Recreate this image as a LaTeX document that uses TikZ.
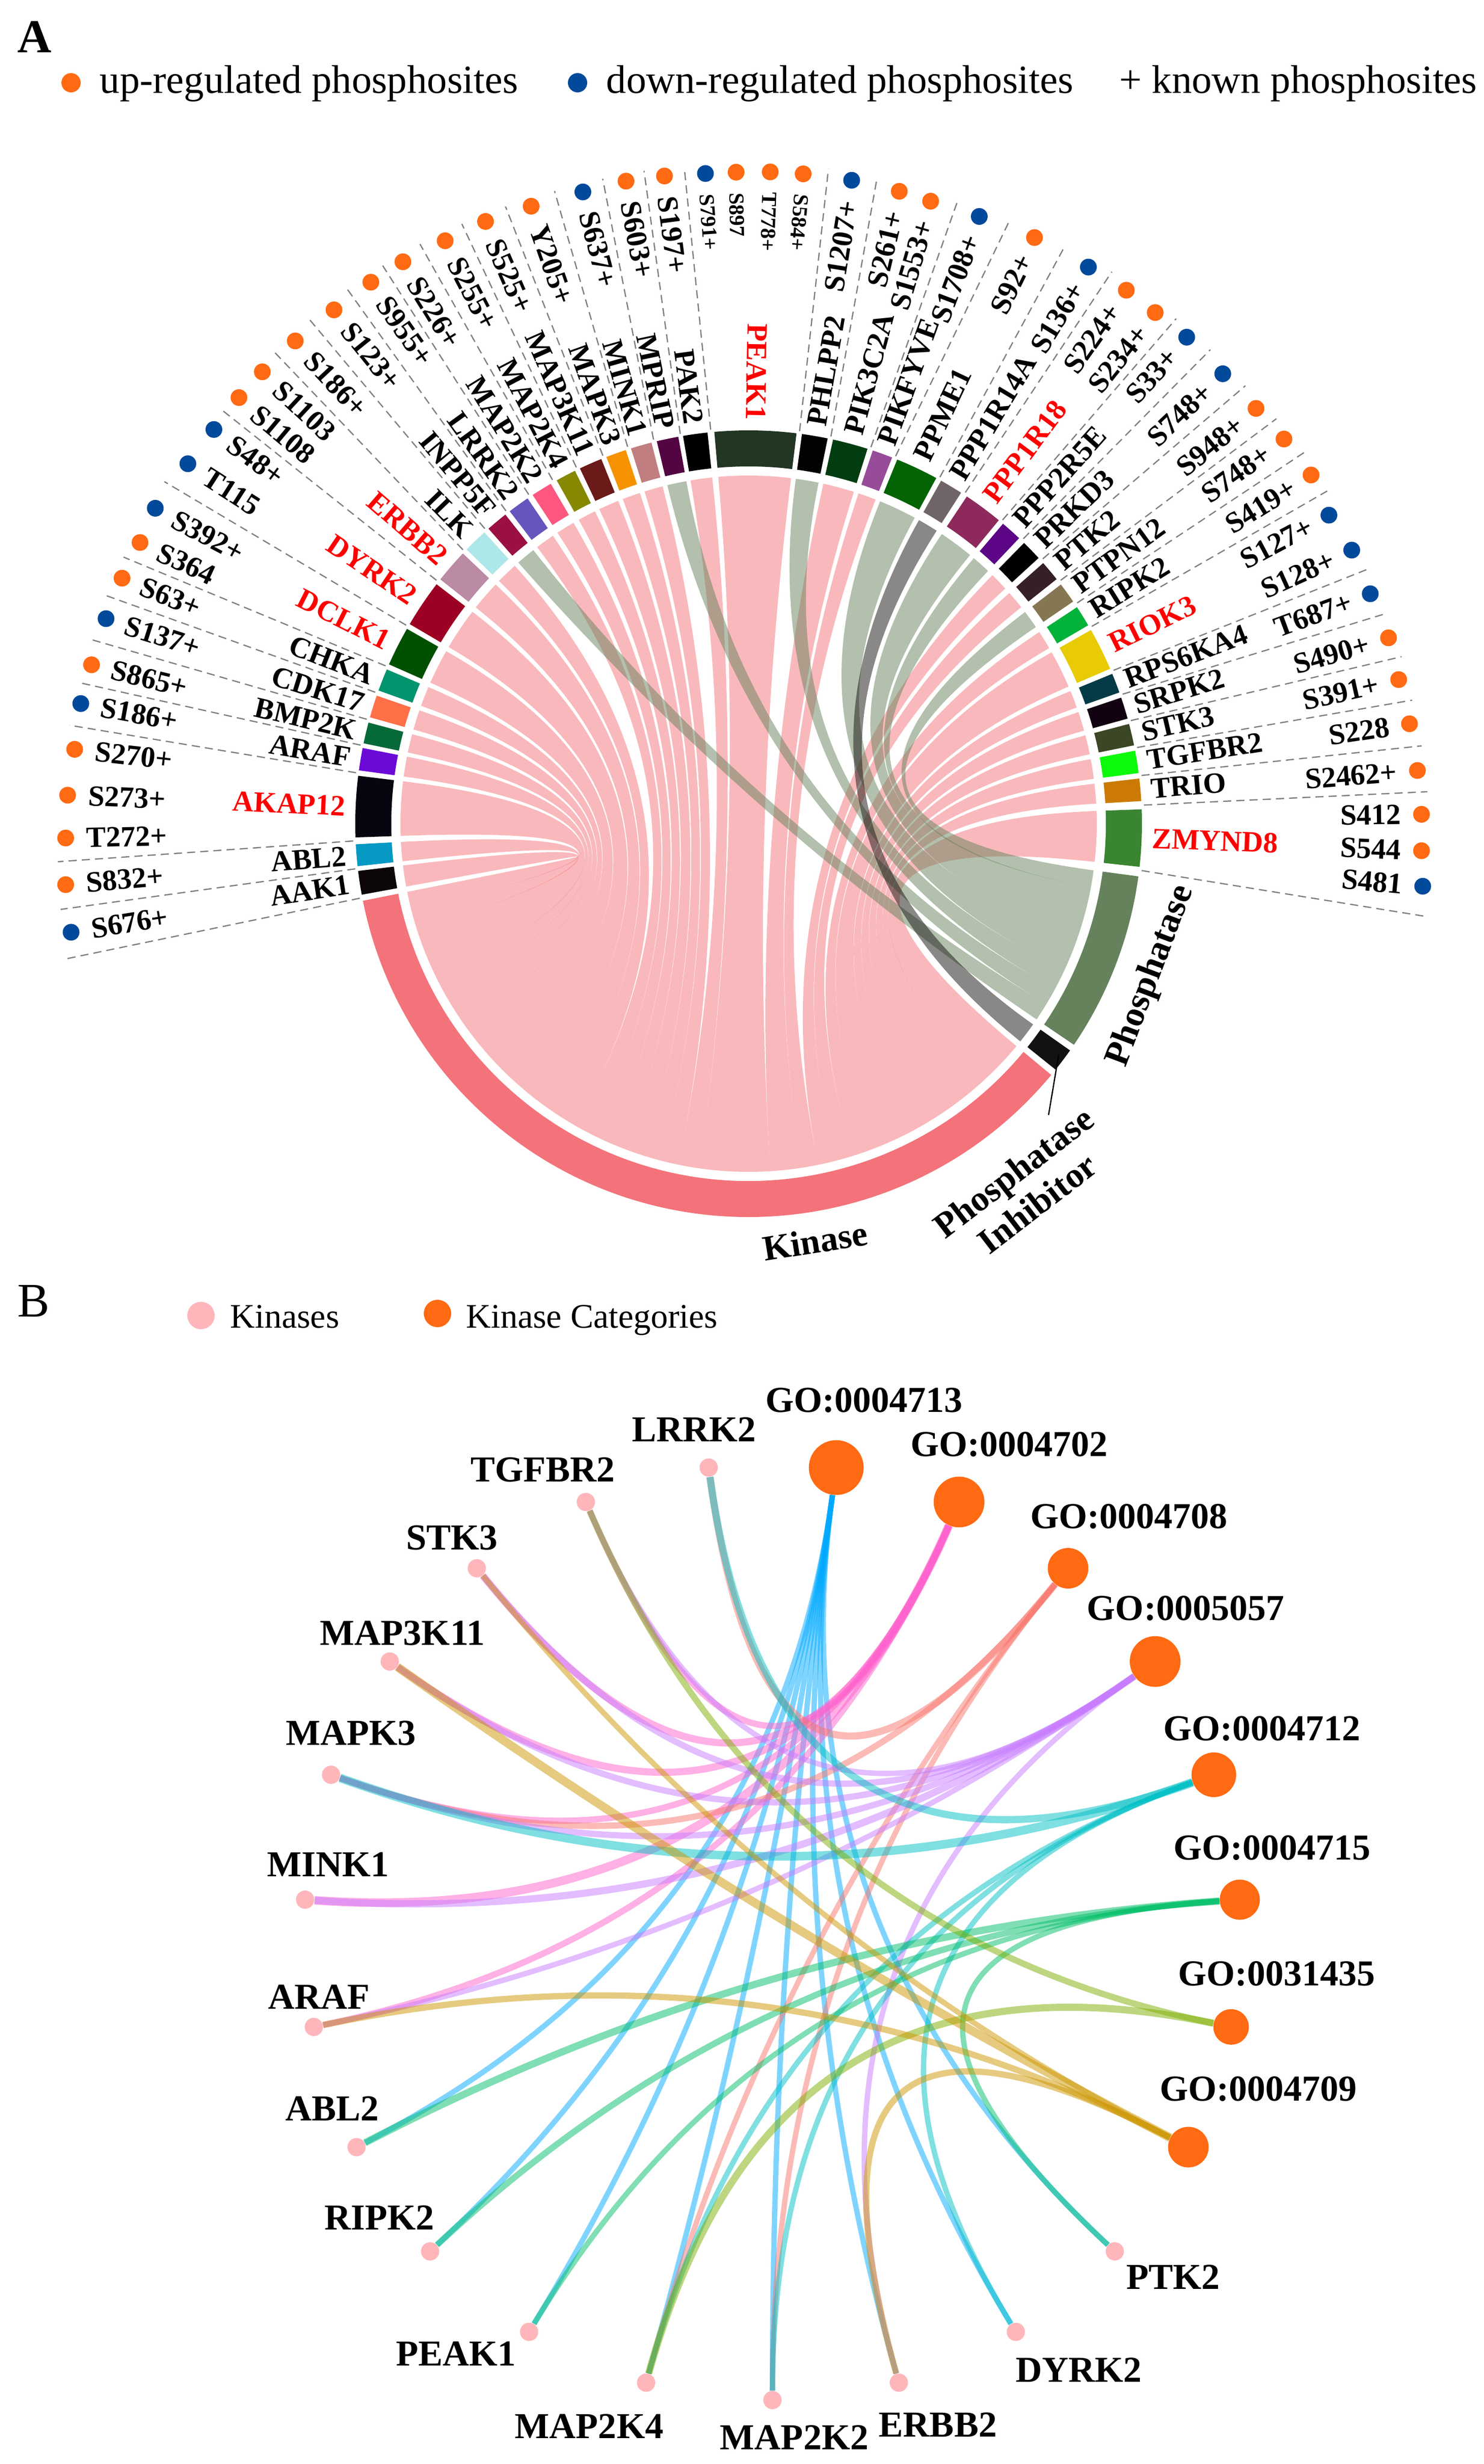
\documentclass[tikz,border=0pt]{standalone}
\usepackage{fontspec}
\setmainfont{Liberation Serif}
\usetikzlibrary{calc,backgrounds}

\definecolor{cUp}{HTML}{FF6A13}
\definecolor{cDown}{HTML}{01499A}
\definecolor{cGuide}{HTML}{7F7F7F}
\definecolor{cKin}{HTML}{F4737A}
\definecolor{cPho}{HTML}{66825C}
\definecolor{cInh}{HTML}{141210}
\definecolor{cKinN}{HTML}{FFB6BA}
% block colours
\definecolor{cAAK1}{HTML}{0D0606}
\definecolor{cABL2}{HTML}{0599C4}
\definecolor{cAKAP12}{HTML}{05060F}
\definecolor{cARAF}{HTML}{6B0AD6}
\definecolor{cBMP2K}{HTML}{066A38}
\definecolor{cCDK17}{HTML}{FF7048}
\definecolor{cCHKA}{HTML}{02946F}
\definecolor{cDCLK1}{HTML}{005000}
\definecolor{cDYRK2}{HTML}{9C0124}
\definecolor{cERBB2}{HTML}{BB8AA4}
\definecolor{cILK}{HTML}{AEE7E9}
\definecolor{cINPP5F}{HTML}{9A1042}
\definecolor{cLRRK2}{HTML}{6556BE}
\definecolor{cMAP2K2}{HTML}{FF5880}
\definecolor{cMAP2K4}{HTML}{858800}
\definecolor{cMAP3K11}{HTML}{6A1A18}
\definecolor{cMAPK3}{HTML}{F69200}
\definecolor{cMINK1}{HTML}{C07E80}
\definecolor{cMPRIP}{HTML}{520542}
\definecolor{cPAK2}{HTML}{000000}
\definecolor{cPEAK1}{HTML}{223623}
\definecolor{cPHLPP2}{HTML}{020202}
\definecolor{cPIK3C2A}{HTML}{023D12}
\definecolor{cPIKFYVE}{HTML}{974C9A}
\definecolor{cPPME1}{HTML}{046304}
\definecolor{cPPP1R14A}{HTML}{706566}
\definecolor{cPPP1R18}{HTML}{8E2A5B}
\definecolor{cPPP2R5E}{HTML}{5C0587}
\definecolor{cPRKD3}{HTML}{000000}
\definecolor{cPTK2}{HTML}{352125}
\definecolor{cPTPN12}{HTML}{857752}
\definecolor{cRIPK2}{HTML}{03B23A}
\definecolor{cRIOK3}{HTML}{E8CB02}
\definecolor{cRPS6KA4}{HTML}{043B47}
\definecolor{cSRPK2}{HTML}{130211}
\definecolor{cSTK3}{HTML}{3B4724}
\definecolor{cTGFBR2}{HTML}{0CF90B}
\definecolor{cTRIO}{HTML}{CB7B05}
\definecolor{cZMYND8}{HTML}{3A8532}
% GO term colours
\definecolor{cgo4713}{HTML}{00A9FF}
\definecolor{cgo4702}{HTML}{FF61CC}
\definecolor{cgo4708}{HTML}{F8766D}
\definecolor{cgo5057}{HTML}{C77CFF}
\definecolor{cgo4712}{HTML}{00BFC4}
\definecolor{cgo4715}{HTML}{00BE67}
\definecolor{cgo31435}{HTML}{7CAE00}
\definecolor{cgo4709}{HTML}{CD9600}

\begin{document}
\begin{tikzpicture}[
    gene/.style={font=\fontsize{16.5}{18}\selectfont\bfseries, inner sep=0pt},
    site/.style={font=\fontsize{16.5}{18}\selectfont\bfseries, inner sep=0pt},
    sitesm/.style={font=\fontsize{12}{14}\selectfont\bfseries, inner sep=0pt},
    cat/.style={font=\fontsize{20}{22}\selectfont\bfseries, inner sep=0pt},
    leg/.style={font=\fontsize{22.4}{26}\selectfont, inner sep=0pt, anchor=base west},
    legb/.style={font=\fontsize{19.3}{22}\selectfont, inner sep=0pt, anchor=base west},
    dot/.style={circle, inner sep=0pt, minimum size=0.38cm},
    guide/.style={draw=cGuide, line width=0.7pt, dash pattern=on 0.16cm off 0.1cm},
    chordK/.style={fill=cKin, fill opacity=0.5},
    chordP/.style={fill=cPho, fill opacity=0.5},
    chordI/.style={fill=cInh, fill opacity=0.5},
    kin/.style={circle, fill=cKinN, inner sep=0pt, minimum size=0.36cm},
    gonode/.style={circle, fill=cUp, inner sep=0pt},
    blab/.style={font=\fontsize{20.5}{24}\selectfont\bfseries, inner sep=0pt},
    edge/.style={draw opacity=0.5}
  ]
  \useasboundingbox (0,0) rectangle (29.24,-48.55);

  % panel A: legend
  \node[font=\fontsize{26.5}{30}\selectfont\bfseries, inner sep=0pt, anchor=base west] (panelA) at (0.34,-1.03) {A};
  \node[dot, fill=cUp] (legUp) at (1.40,-1.63) {};
  \node[leg] (legUpT) at (1.96,-1.83) {up-regulated phosphosites};
  \node[dot, fill=cDown] (legDown) at (11.38,-1.63) {};
  \node[leg] (legDownT) at (11.94,-1.83) {down-regulated phosphosites};
  \node[leg] (legKnownT) at (22.05,-1.83) {+ known phosphosites};

  \begin{scope}[shift={(14.75,-16.23)}]
    \def\Rin{7.04}
    \def\Rout{7.75}
    \def\Rc{6.86}
    \def\Rq{2.287}
    \def\Rlab{7.95}

    % chords
    \foreach \sa/\sb/\ta/\tb/\cc in {
        186.9/190.4/191.3/194.71/chordK, 183.0/186.2/194.71/197.83/chordK,
        173.0/182.0/197.83/206.59/chordK, 168.9/172.2/206.59/209.80/chordK,
        165.1/168.2/209.80/212.82/chordK, 161.0/164.3/212.82/216.03/chordK,
        156.9/160.2/216.03/219.24/chordK, 150.3/156.1/219.24/224.89/chordK,
        142.5/149.5/224.89/231.71/chordK, 136.6/141.6/231.71/236.58/chordK,
        132.2/135.8/236.58/240.08/chordK, 124.2/127.4/240.08/243.20/chordK,
        120.2/123.3/243.20/246.22/chordK, 116.2/119.2/246.22/249.14/chordK,
        112.0/115.4/249.14/252.45/chordK, 108.2/111.2/252.45/255.37/chordK,
        104.3/107.4/255.37/258.39/chordK, 96.0/99.6/258.39/261.89/chordK,
        83.0/95.0/261.89/273.57/chordK, 72.4/77.6/273.57/278.63/chordK,
        68.6/71.6/278.63/281.55/chordK, 42.5/45.55/281.55/284.52/chordK,
        38.45/41.5/284.52/287.49/chordK, 30.3/33.4/287.49/290.51/chordK,
        23.2/29.5/290.51/296.64/chordK, 19.5/22.4/296.64/299.46/chordK,
        15.5/18.7/299.46/302.58/chordK, 11.5/14.7/302.58/305.70/chordK,
        7.4/10.7/305.70/308.91/chordK, 3.3/6.6/308.91/312.12/chordK,
        -6.3/2.1/312.12/320.30/chordK,
        128.2/131.4/325.8/328.78/chordP, 100.3/103.5/328.78/331.76/chordP,
        78.4/82.2/331.76/335.29/chordP, 61.5/67.8/335.29/341.15/chordP,
        50.5/56.3/341.15/346.54/chordP, 46.55/49.7/346.54/349.47/chordP,
        34.4/37.45/349.47/352.30/chordP,
        57.3/60.7/321.3/324.8/chordI}
      \fill[\cc] (\sa:\Rc) arc[start angle=\sa, end angle=\sb, radius=\Rc]
        .. controls (\sb:\Rq) and (\ta:\Rq) .. (\ta:\Rc)
        arc[start angle=\ta, end angle=\tb, radius=\Rc]
        .. controls (\tb:\Rq) and (\sa:\Rq) .. (\sa:\Rc) -- cycle;

    % category track
    \foreach \ga/\gb/\cc in {191.3/320.3/cKin, 321.3/324.8/cInh, 325.8/352.3/cPho}
      \fill[\cc] (\ga:\Rin) arc[start angle=\ga, end angle=\gb, radius=\Rin]
        -- (\gb:\Rout) arc[start angle=\gb, end angle=\ga, radius=\Rout] -- cycle;

    % guide lines
    \foreach \b/\gg/\rr in {190.85/191.2/13.73, 186.55/187.1/13.66, 182.5/183.15/13.63,
        172.6/171.75/13.52, 168.55/168.1/13.50, 164.7/164.35/13.46, 160.6/160.45/13.43,
        156.5/156.9/13.39, 149.9/149.65/13.34, 142.05/141.85/13.24, 136.2/135.15/13.22,
        131.8/131.05/13.18, 127.8/126.9/13.16, 123.75/123.25/13.15, 119.7/119.55/13.13,
        115.8/115.55/13.10, 111.6/111.5/13.07, 107.8/107.05/13.04, 103.9/102.75/13.03,
        99.95/99.1/13.03, 95.5/95.6/13.00, 82.6/83.05/13.00, 78.0/78.75/12.97,
        72.0/71.45/12.94, 68.2/66.6/12.98, 61.1/61.3/13.00, 56.8/56.65/13.02,
        50.1/49.75/13.04, 46.05/45.75/13.04, 42.0/41.4/13.05, 37.95/37.5/13.11,
        33.9/33.75/13.17, 29.9/29.9/13.15, 22.8/22.35/13.21, 19.1/18.25/13.25,
        15.1/14.35/13.28, 11.1/10.55/13.30, 7.0/6.6/13.35, 2.7/2.7/13.39, -6.8/-7.8/13.49}
      \draw[guide] (\b:7.80) -- (\gg:\rr);

    % gene blocks and names
    \foreach \ga/\gb/\gn/\gt in {
        -6.3/2.1/ZMYND8/red, 3.3/6.6/TRIO/black, 7.4/10.7/TGFBR2/black,
        11.5/14.7/STK3/black, 15.5/18.7/SRPK2/black, 19.5/22.4/RPS6KA4/black,
        23.2/29.5/RIOK3/red, 30.3/33.4/RIPK2/black, 34.4/37.45/PTPN12/black,
        38.45/41.5/PTK2/black, 42.5/45.55/PRKD3/black, 46.55/49.7/PPP2R5E/black,
        50.5/56.3/PPP1R18/red, 57.3/60.7/PPP1R14A/black, 61.5/67.8/PPME1/black,
        68.6/71.6/PIKFYVE/black, 72.4/77.6/PIK3C2A/black, 78.4/82.2/PHLPP2/black,
        83.0/95.0/PEAK1/red, 96.0/99.6/PAK2/black, 100.3/103.5/MPRIP/black,
        104.3/107.4/MINK1/black, 108.2/111.2/MAPK3/black, 112.0/115.4/MAP3K11/black,
        116.2/119.2/MAP2K4/black, 120.2/123.3/MAP2K2/black, 124.2/127.4/LRRK2/black,
        128.2/131.4/INPP5F/black, 132.2/135.8/ILK/black, 136.6/141.6/ERBB2/red,
        142.5/149.5/DYRK2/red, 150.3/156.1/DCLK1/red, 156.9/160.2/CHKA/black,
        161.0/164.3/CDK17/black, 165.1/168.2/BMP2K/black, 168.9/172.2/ARAF/black,
        173.0/182.0/AKAP12/red, 183.0/186.2/ABL2/black, 186.9/190.4/AAK1/black}{
      \pgfmathsetmacro\gm{(\ga+\gb)/2}
      \pgfmathsetmacro\gr{\gm+180}
      \fill[c\gn] (\ga:\Rin) arc[start angle=\ga, end angle=\gb, radius=\Rin]
        -- (\gb:\Rout) arc[start angle=\gb, end angle=\ga, radius=\Rout] -- cycle;
      \ifdim\gm pt>81.5pt
        \node[gene, text=\gt, rotate=\gr, anchor=east] (g\gn) at (\gm:\Rlab) {\gn};
      \else
        \node[gene, text=\gt, rotate=\gm, anchor=west] (g\gn) at (\gm:\Rlab) {\gn};
      \fi
    }

    % phosphosites
    \foreach \sa/\sr/\st/\sc/\ss [count=\i] in {
        189.1/13.52/S676+/cDown/site, 185.1/13.51/S832+/cUp/site, 181.2/13.46/T272+/cUp/site,
        177.6/13.43/S273+/cUp/site, 173.7/13.36/S270+/cUp/site, 169.8/13.37/S186+/cDown/site,
        166.4/13.32/S865+/cUp/site, 162.3/13.29/S137+/cDown/site, 158.6/13.26/S63+/cUp/site,
        155.2/13.21/S364/cUp/site, 152.0/13.24/S392+/cDown/site, 147.3/13.13/T115/cDown/site,
        143.6/13.09/S48+/cDown/site, 140.1/13.09/S1108/cUp/site, 137.1/13.08/S1103/cUp/site,
        133.2/13.05/S186+/cUp/site, 128.9/13.01/S123+/cUp/site, 124.9/13.01/S955+/cUp/site,
        121.6/13.00/S226+/cUp/site, 117.5/12.95/S255+/cUp/site, 113.6/12.95/S525+/cUp/site,
        109.4/12.90/Y205+/cUp/site, 104.7/12.87/S637+/cDown/site, 100.8/12.89/S603+/cUp/site,
        97.4/12.87/S197+/cUp/site, 93.8/12.84/S791+/cDown/sitesm, 91.1/12.84/S897/cUp/sitesm,
        88.1/12.85/T778+/cUp/sitesm, 85.2/12.85/S584+/cUp/sitesm, 80.9/12.84/S1207+/cDown/site,
        76.6/12.81/S261+/cUp/site, 73.7/12.78/S1553+/cUp/site, 69.2/12.80/S1708+/cDown/site,
        64.0/12.85/S92+/cUp/site, 58.6/12.85/S136+/cDown/site, 54.7/12.88/S224+/cUp/site,
        51.5/12.87/S234+/cUp/site, 48.0/12.90/S33+/cDown/site, 43.5/12.88/S748+/cDown/site,
        39.3/12.92/S948+/cUp/site, 35.7/12.99/S748+/cUp/site, 31.8/13.04/S419+/cUp/site,
        28.0/12.95/S127+/cDown/site, 24.4/13.05/S128+/cDown/site, 20.3/13.06/T687+/cDown/site,
        16.2/13.13/S490+/cUp/site, 12.5/13.12/S391+/cUp/site, 8.6/13.17/S228/cUp/site,
        4.55/13.22/S2462+/cUp/site, 0.8/13.26/S412/cUp/site, -2.3/13.27/S544/cUp/site,
        -5.3/13.34/S481/cDown/site}{
      \pgfmathsetmacro\lr{\sr-0.40}
      \pgfmathsetmacro\sg{\sa+180}
      \ifdim\sa pt>81.5pt
        \node[\ss, rotate=\sg, anchor=west] (s\i) at (\sa:\lr) {\st};
      \else
        \node[\ss, rotate=\sa, anchor=east] (s\i) at (\sa:\lr) {\st};
      \fi
      \fill[\sc] (\sa:\sr) circle[radius=0.165];
    }

    % category names
    \node[cat, rotate=9] (lKin) at (1.31,-8.22) {Kinase};
    \node[cat, rotate=69.3] (lPho) at (7.93,-3.00) {Phosphatase};
    \node[cat, rotate=37.5, align=center] (lInh) at (5.45,-7.17) {Phosphatase\\Inhibitor};
    \coordinate (inhTip) at (-36.7:7.62);
    \coordinate (inhEnd) at (5.91,-5.74);
    \draw[line width=0.7pt] (inhTip) -- (inhEnd);
  \end{scope}

  % panel B: legend
  \node[font=\fontsize{27}{30}\selectfont, inner sep=0pt, anchor=base west] (panelB) at (0.34,-25.94) {B};
  \node[kin, minimum size=0.54cm] (legKin) at (3.96,-25.92) {};
  \node[legb] (legKinT) at (4.53,-26.16) {Kinases};
  \node[gonode, minimum size=0.54cm] (legGo) at (8.62,-25.88) {};
  \node[legb] (legGoT) at (9.18,-26.16) {Kinase Categories};

  \begin{scope}[shift={(15.22,-38.06)}]
    \coordinate (o) at (0,0);
    \foreach \n/\t/\d/\dx/\dy [count=\k from 0] in {
        MAP2K2/MAP2K2/0/0.43/-0.74, MAP2K4/MAP2K4/0/-1.12/-0.86, PEAK1/PEAK1/0/-1.44/-0.43,
        RIPK2/RIPK2/0/-1.00/0.66, ABL2/ABL2/0/-0.48/0.76, ARAF/ARAF/0/0.10/0.59,
        MINK1/MINK1/0/0.45/0.69, MAPK3/MAPK3/0/0.39/0.82, MAP3K11/MAP3K11/0/0.25/0.56,
        STK3/STK3/0/-0.49/0.60, TGFBR2/TGFBR2/0/-0.85/0.63, LRRK2/LRRK2/0/-0.29/0.75,
        go4713/GO:0004713/1.08/0.55/1.33, go4702/GO:0004702/1.00/0.99/1.13,
        go4708/GO:0004708/0.80/1.20/1.02, go5057/GO:0005057/1.00/0.60/1.05,
        go4712/GO:0004712/0.88/0.95/0.91, go4715/GO:0004715/0.79/0.64/1.02,
        go31435/GO:0031435/0.70/0.90/1.05, go4709/GO:0004709/0.80/1.38/1.15,
        PTK2/PTK2/0/1.15/-0.51, DYRK2/DYRK2/0/1.24/-0.75, ERBB2/ERBB2/0/0.77/-0.83}{
      \pgfmathsetmacro\a{270-\k*360/23}
      \ifdim\d pt>0pt
        \node[gonode, minimum size=\d cm] (\n) at (\a:9.23) {};
      \else
        \node[kin] (\n) at (\a:9.23) {};
      \fi
      \node[blab] (l\n) at ($(\n)+(\dx,\dy)$) {\t};
    }

    % edges, behind the nodes
    \begin{scope}[on background layer]
      \foreach \g/\kk/\w in {
          go4713/ABL2/3, go4713/RIPK2/3, go4713/PEAK1/3, go4713/MAP2K4/3,
          go4713/MAP2K2/3, go4713/ERBB2/3, go4713/DYRK2/3, go4713/PTK2/3,
          go4702/TGFBR2/3.5, go4702/STK3/4, go4702/MAP3K11/4, go4702/MAPK3/3.5,
          go4702/MINK1/4.8, go4702/ARAF/3.5,
          go4708/LRRK2/4, go4708/MAPK3/3.5, go4708/MAP2K4/3, go4708/MAP2K2/3,
          go5057/TGFBR2/3, go5057/STK3/3.5, go5057/MAP3K11/3.5, go5057/MAPK3/3.5,
          go5057/MINK1/4, go5057/ARAF/3, go5057/ERBB2/3,
          go4712/LRRK2/4, go4712/MAPK3/4.8, go4712/DYRK2/3, go4712/MAP2K2/3, go4712/MAP2K4/3,
          go4715/ABL2/4, go4715/RIPK2/3.5, go4715/PEAK1/3, go4715/PTK2/3,
          go31435/TGFBR2/3.5, go31435/MAP2K4/4,
          go4709/MAP3K11/4.8, go4709/STK3/3, go4709/ARAF/3.5, go4709/ERBB2/3.5}
        \draw[edge, draw=c\g, line width=\w pt] (\g)
          .. controls ($(\g)!0.8!(o)$) and ($(\kk)!0.55!(o)$) .. (\kk);
    \end{scope}
  \end{scope}
\end{tikzpicture}
\end{document}
